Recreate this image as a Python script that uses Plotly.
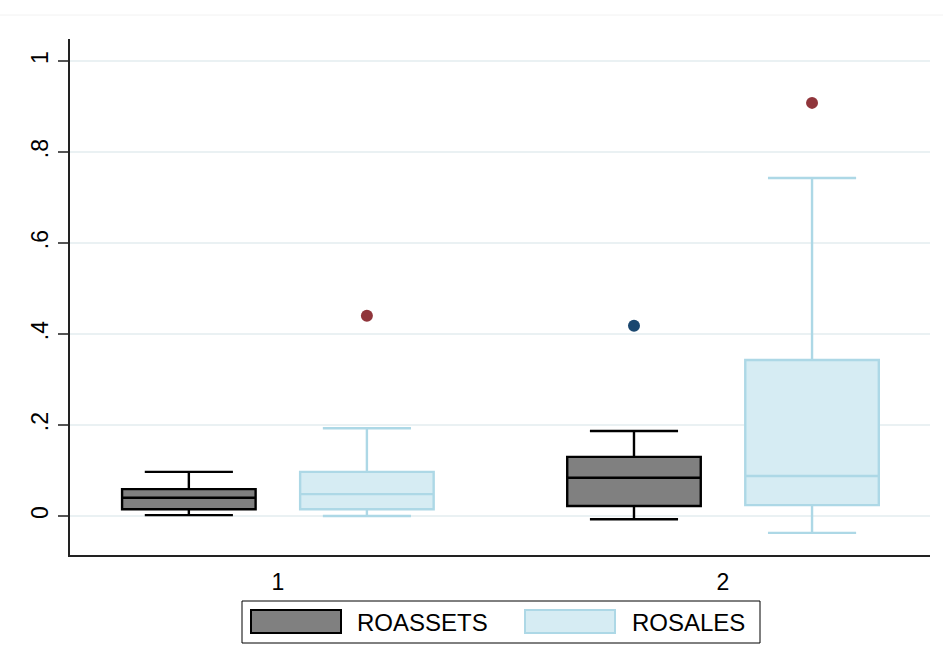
import plotly.graph_objects as go

# Box-plot summary statistics for each group
groups = [1, 2]

roassets_q1 = [0.015, 0.022]
roassets_median = [0.040, 0.084]
roassets_q3 = [0.059, 0.130]
roassets_lower = [0.002, -0.007]
roassets_upper = [0.097, 0.187]
roassets_outliers = [[], [0.418]]

rosales_q1 = [0.015, 0.024]
rosales_median = [0.048, 0.088]
rosales_q3 = [0.097, 0.343]
rosales_lower = [0.000, -0.037]
rosales_upper = [0.193, 0.743]
rosales_outliers = [[0.440], [0.908]]

y_ticks = [0, 0.2, 0.4, 0.6, 0.8, 1]
y_tick_labels = ["0", ".2", ".4", ".6", ".8", "1"]
x_tick_labels = ["1", "2"]

FONT = "Liberation Sans, Arial, sans-serif"
W, H = 943, 665
L, R, T, B = 70, 13, 39, 110
PW, PH = W - L - R, H - T - B


def px_x(p):
    return (p - L) / PW


def px_y(p):
    return (H - B - p) / PH


def samples(lower, upper, outliers):
    # observed points per group: the whisker-end observations plus outliers
    return [[lo, hi] + out for lo, hi, out in zip(lower, upper, outliers)]


fig = go.Figure()

fig.add_trace(go.Box(
    name="ROASSETS",
    x=groups,
    y=samples(roassets_lower, roassets_upper, roassets_outliers),
    q1=roassets_q1, median=roassets_median, q3=roassets_q3,
    lowerfence=roassets_lower, upperfence=roassets_upper,
    boxpoints="outliers", jitter=0, pointpos=0,
    fillcolor="#808080",
    line=dict(color="#000000", width=2.4),
    marker=dict(color="#1a476f", size=12, line=dict(width=0)),
    whiskerwidth=0.66,
    showlegend=False,
))

fig.add_trace(go.Box(
    name="ROSALES",
    x=groups,
    y=samples(rosales_lower, rosales_upper, rosales_outliers),
    q1=rosales_q1, median=rosales_median, q3=rosales_q3,
    lowerfence=rosales_lower, upperfence=rosales_upper,
    boxpoints="outliers", jitter=0, pointpos=0,
    fillcolor="#d6ecf3",
    line=dict(color="#add8e6", width=2.4),
    marker=dict(color="#90353b", size=12, line=dict(width=0)),
    whiskerwidth=0.66,
    showlegend=False,
))

shapes = [
    # faint rule at the top of the graph region
    dict(type="line", xref="paper", yref="paper",
         x0=px_x(0), x1=px_x(W), y0=px_y(15), y1=px_y(15),
         line=dict(color="#f2f2f2", width=1)),
    # legend frame
    dict(type="rect", xref="paper", yref="paper",
         x0=px_x(242), x1=px_x(760), y0=px_y(643), y1=px_y(601),
         line=dict(color="#000000", width=1), fillcolor="#ffffff"),
    # legend keys
    dict(type="rect", xref="paper", yref="paper",
         x0=px_x(251), x1=px_x(341), y0=px_y(633), y1=px_y(610),
         line=dict(color="#000000", width=2), fillcolor="#808080"),
    dict(type="rect", xref="paper", yref="paper",
         x0=px_x(525), x1=px_x(615), y0=px_y(633), y1=px_y(610),
         line=dict(color="#add8e6", width=2), fillcolor="#d6ecf3"),
]

annotations = [
    dict(text="ROASSETS", xref="paper", yref="paper",
         x=px_x(355), y=px_y(622), xanchor="left", yanchor="middle",
         showarrow=False, font=dict(family=FONT, size=24, color="#000000")),
    dict(text="ROSALES", xref="paper", yref="paper",
         x=px_x(630), y=px_y(622), xanchor="left", yanchor="middle",
         showarrow=False, font=dict(family=FONT, size=24, color="#000000")),
]

fig.update_layout(
    width=W, height=H,
    margin=dict(l=L, r=R, t=T, b=B),
    paper_bgcolor="#ffffff",
    plot_bgcolor="#ffffff",
    boxmode="group",
    boxgap=0.2,
    boxgroupgap=0.25,
    showlegend=False,
    shapes=shapes,
    annotations=annotations,
    font=dict(family=FONT, color="#000000"),
    xaxis=dict(
        range=[0.533, 2.465],
        tickvals=groups, ticktext=x_tick_labels,
        ticks="", showgrid=False, zeroline=False,
        showline=True, linecolor="#222222", linewidth=2,
        tickfont=dict(family=FONT, size=23, color="#000000"),
        ticklabelstandoff=5,
    ),
    yaxis=dict(
        range=[-0.0857, 1.0484],
        tickvals=y_ticks, ticktext=y_tick_labels,
        tickangle=-90,
        ticks="outside", ticklen=10, tickwidth=1.5, tickcolor="#555555",
        showgrid=True, gridcolor="#eaf1f3", gridwidth=2,
        zeroline=False,
        showline=True, linecolor="#222222", linewidth=1.5,
        tickfont=dict(family=FONT, size=23, color="#000000"),
        ticklabelstandoff=1,
    ),
)

fig.write_html("out.html")
